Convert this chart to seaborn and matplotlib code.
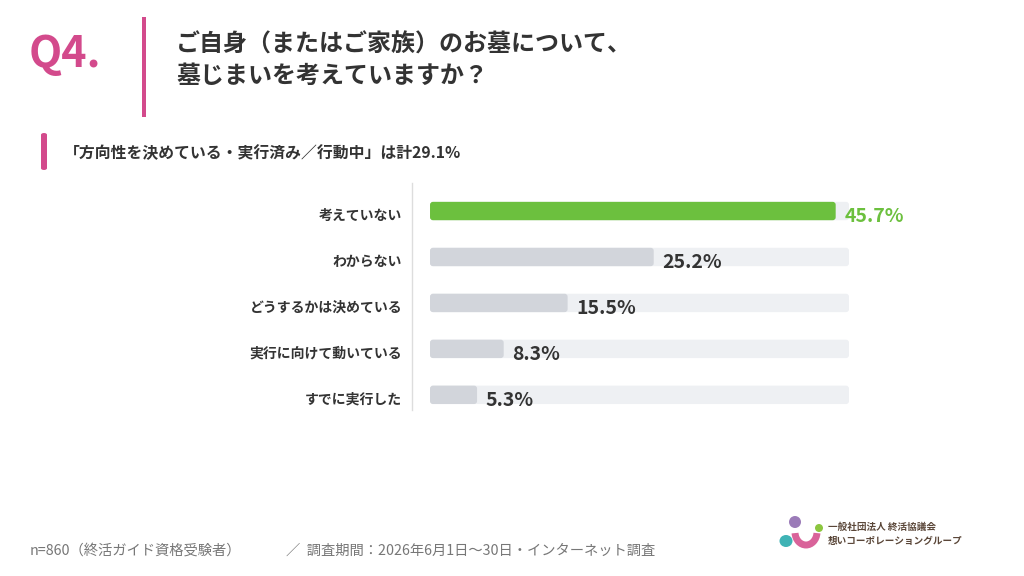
import matplotlib
matplotlib.use("Agg")
import matplotlib.pyplot as plt
import matplotlib.transforms as mtransforms
import seaborn as sns
import pandas as pd
from matplotlib.patches import FancyBboxPatch, Ellipse, Arc, Rectangle

categories = ["考えていない", "わからない", "どうするかは決めている", "実行に向けて動いている", "すでに実行した"]
values = [45.7, 25.2, 15.5, 8.3, 5.3]
track_max = 47.2

title_q = "Q4."
title = "ご自身（またはご家族）のお墓について、\n墓じまいを考えていますか？"
subtitle = "「方向性を決めている・実行済み／行動中」は計29.1%"
note_n = "n=860（終活ガイド資格受験者）"
note_period = "／  調査期間：2026年6月1日〜30日・インターネット調査"
logo_lines = ["一般社団法人 終活協議会", "想いコーポレーショングループ"]

pink = "#d34a8c"
green = "#6cc03e"
gray_bar = "#d2d5db"
track = "#eef0f3"
dark = "#333333"

sns.set_theme(style="white")
plt.rcParams["font.family"] = ["Noto Sans CJK JP", "DejaVu Sans"]

df = pd.DataFrame({"category": categories, "value": values})
df["track"] = track_max

fig = plt.figure(figsize=(10.24, 5.76), dpi=100)
fig.patch.set_facecolor("white")

W, H = 1024, 576
ax = fig.add_axes([412 / W, 1 - 410 / H, (849 - 412) / W, (410 - 183) / H])

sns.barplot(data=df, y="category", x="track", color=track, width=0.4,
            saturation=1, ax=ax)
sns.barplot(data=df, y="category", x="value", palette=[green] + [gray_bar] * 4,
            hue="category", legend=False, width=0.4, saturation=1, ax=ax)

ax.set_xlim(-2.03, track_max)
ax.set_ylim(4.33, -0.61)

# rounded bar corners
px_x = 1 / 8.88
px_y = 1 / 46
for p in list(ax.patches):
    x, y = p.get_x(), p.get_y()
    w, h = p.get_width(), p.get_height()
    fc = p.get_facecolor()
    p.remove()
    ax.add_patch(FancyBboxPatch((x, y), w, h,
                                boxstyle=f"round,pad=0,rounding_size={3 * px_x}",
                                mutation_aspect=px_y / px_x, facecolor=fc,
                                edgecolor="none", zorder=2))

for i, v in enumerate(values):
    c = green if i == 0 else dark
    ax.text(v + 1.0, i + 0.12, f"{v}%", ha="left", va="center", fontsize=14,
            fontweight="bold", color=c, clip_on=False)

ax.set_xlabel("")
ax.set_ylabel("")
ax.set_xticks([])
ax.set_yticks(range(len(categories)))
ax.set_yticklabels(categories, fontsize=10, fontweight="bold", color=dark)
ax.tick_params(axis="y", length=0, pad=7)
shift = mtransforms.ScaledTranslation(0, -3 / 100, fig.dpi_scale_trans)
for lab in ax.get_yticklabels():
    lab.set_transform(lab.get_transform() + shift)
for s in ["top", "right", "bottom"]:
    ax.spines[s].set_visible(False)
ax.spines["left"].set_color("#dddddd")
ax.spines["left"].set_linewidth(1)

# header
fig.text(29 / W, 1 - 54 / H, title_q, fontsize=31, fontweight="bold", color=pink,
         ha="left", va="center")
fig.add_artist(Rectangle((142 / W, 1 - 117 / H), 4 / W, 100 / H,
                         transform=fig.transFigure, color=pink, lw=0))
fig.text(176 / W, 1 - 60 / H, title, fontsize=17.3, fontweight="bold", color=dark,
         ha="left", va="center", linespacing=1.4)

fig.add_artist(FancyBboxPatch((41 / W, 1 - 170 / H), 6 / W, 37 / H,
                              boxstyle="round,pad=0,rounding_size=0.003",
                              transform=fig.transFigure, color=pink, lw=0))
fig.text(64 / W, 1 - 153 / H, subtitle, fontsize=11.4, fontweight="bold", color=dark,
         ha="left", va="center")

# footer
fig.text(30 / W, 1 - 551 / H, note_n, fontsize=10.3, color="#777777", ha="left", va="center")
fig.text(286 / W, 1 - 551 / H, note_period, fontsize=10.3, color="#777777", ha="left", va="center")

# logo
fig.add_artist(Ellipse((795 / W, 1 - 522 / H), 12 / W, 12 / H, transform=fig.transFigure,
                       color="#9b7bb8", lw=0))
fig.add_artist(Ellipse((819 / W, 1 - 528 / H), 8 / W, 8 / H, transform=fig.transFigure,
                       color="#8cc63f", lw=0))
fig.add_artist(Ellipse((786 / W, 1 - 541 / H), 13 / W, 12 / H, transform=fig.transFigure,
                       color="#3fb3b5", lw=0))
fig.add_artist(Arc((806 / W, 1 - 532 / H), 22 / W, 26 / H, theta1=190, theta2=350,
                   transform=fig.transFigure, color="#d9639a", lw=5))
fig.text(828 / W, 1 - 527 / H, logo_lines[0], fontsize=6.9, fontweight="bold",
         color="#5a4638", ha="left", va="center")
fig.text(828 / W, 1 - 541 / H, logo_lines[1], fontsize=6.9, fontweight="bold",
         color="#5a4638", ha="left", va="center")

fig.savefig("out.png", dpi=100, facecolor="white")
